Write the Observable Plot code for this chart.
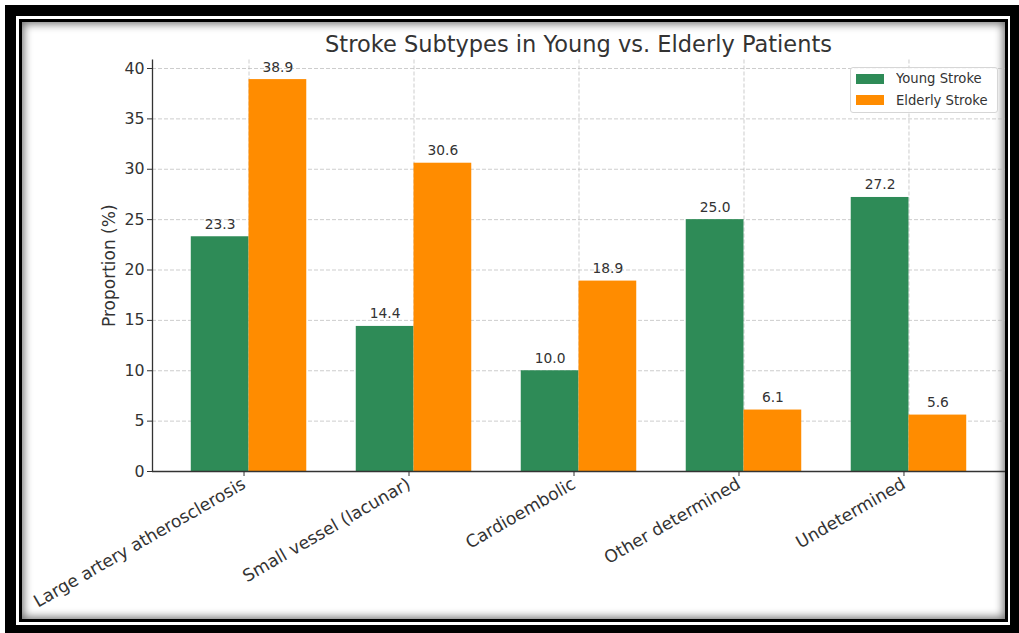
<!DOCTYPE html>
<html>
<head>
<meta charset="utf-8">
<script src="https://cdn.jsdelivr.net/npm/d3@7"></script>
<script src="https://cdn.jsdelivr.net/npm/@observablehq/plot@0.6"></script>
<style>
  html, body { margin: 0; padding: 0; background: #fff; }
  #page { position: relative; width: 1019px; height: 633px; overflow: hidden; font-family: "DejaVu Sans", sans-serif; }
  #outer { position: absolute; left: 5px; top: 5px; right: 0; bottom: 0; border-style: solid; border-color: #000; border-width: 11px 9px 8px 11px; }
  #inner { position: absolute; left: 19px; top: 19px; width: 983px; height: 597px; border: 3px solid #000; box-shadow: inset 0 0 9px 2px rgba(0,0,0,0.55); background: #fff; }
  #title { position: absolute; left: 152px; width: 853px; top: 31px; text-align: center; font-size: 22.5px; color: #333; line-height: normal; white-space: nowrap; }
  #chart { position: absolute; left: 0; top: 0; }
  #legend { position: absolute; left: 850px; top: 67px; width: 148px; height: 46px; border: 1px solid #d6d6d6; border-radius: 3px; background: rgba(255,255,255,0.85); box-sizing: border-box; padding: 0 0 0 5px; }
  #legend, #legend * { font-family: "DejaVu Sans", sans-serif !important; font-size: 13.2px !important; color: #333 !important; }
  #legend > * { margin: 0 !important; }
  #legend .lg-swatch { height: 21.5px; padding: 0 !important; margin: 0 !important; display: flex; align-items: center; }
  #legend .lg-swatch svg { margin-right: 12px !important; margin-left: 0 !important; }
</style>
</head>
<body>
<div id="page">
  <div id="outer"></div>
  <div id="inner"></div>
  <div id="title">Stroke Subtypes in Young vs. Elderly Patients</div>
  <div id="chart"></div>
  <div id="legend"></div>
</div>
<script>
const categories = ["Large artery atherosclerosis", "Small vessel (lacunar)", "Cardioembolic", "Other determined", "Undetermined"];
const youngStroke = [23.3, 14.4, 10.0, 25.0, 27.2];
const elderlyStroke = [38.9, 30.6, 18.9, 6.1, 5.6];
const seriesNames = ["Young Stroke", "Elderly Stroke"];
const seriesColors = ["#2e8b57", "#ff8c00"];
const yTicks = [0, 5, 10, 15, 20, 25, 30, 35, 40];

const barWidth = 0.35;
const rows = [];
categories.forEach((c, i) => {
  rows.push({i, category: c, series: seriesNames[0], value: youngStroke[i], x1: i - barWidth, x2: i});
  rows.push({i, category: c, series: seriesNames[1], value: elderlyStroke[i], x1: i, x2: i + barWidth});
});
const lo = -barWidth, hi = categories.length - 1 + barWidth, pad = 0.05 * (hi - lo);
const xDomain = [lo - pad, hi + pad];
const yMax = d3.max(rows, d => d.value) * 1.05;
const idx = categories.map((_, i) => i);

const ink = "#333";
const chart = Plot.plot({
  width: 1019,
  height: 633,
  marginLeft: 152,
  marginRight: 14,
  marginTop: 59.5,
  marginBottom: 162,
  style: {background: "transparent", fontFamily: "DejaVu Sans, sans-serif", color: ink},
  x: {type: "linear", domain: xDomain},
  y: {domain: [0, yMax]},
  color: {domain: seriesNames, range: seriesColors},
  marks: [
    Plot.gridY({ticks: yTicks, stroke: "#b8b8b8", strokeOpacity: 0.7, strokeDasharray: "4,2"}),
    Plot.gridX({ticks: idx, stroke: "#b8b8b8", strokeOpacity: 0.7, strokeDasharray: "4,2"}),
    Plot.rectY(rows, {x1: "x1", x2: "x2", y: "value", fill: "series"}),
    Plot.text(rows, {x: d => (d.x1 + d.x2) / 2, y: "value", text: d => d.value.toFixed(1), lineAnchor: "bottom", dy: -8, fontSize: 13.8, fill: ink}),
    Plot.axisY({ticks: yTicks, tickSize: 5, tickPadding: 3, fontSize: 15.8, label: null, stroke: ink, fill: ink}),
    Plot.axisX({ticks: idx, tickFormat: i => categories[i], tickSize: 5, tickPadding: 6, tickRotate: -30, fontSize: 17.2, label: null, stroke: ink, fill: ink, dx: -5}),
    Plot.ruleX([xDomain[0]], {stroke: ink, strokeWidth: 1.3}),
    Plot.ruleY([0], {stroke: ink, strokeWidth: 1.3}),
    Plot.text(["Proportion (%)"], {frameAnchor: "left", textAnchor: "middle", rotate: -90, dx: -43, fontSize: 17, fill: ink})
  ]
});
document.getElementById("chart").appendChild(chart);

const legend = Plot.legend({
  color: {domain: seriesNames, range: seriesColors},
  legend: "swatches",
  columns: 1,
  swatchWidth: 28,
  swatchHeight: 10,
  className: "lg"
});
document.getElementById("legend").appendChild(legend);
</script>
</body>
</html>
